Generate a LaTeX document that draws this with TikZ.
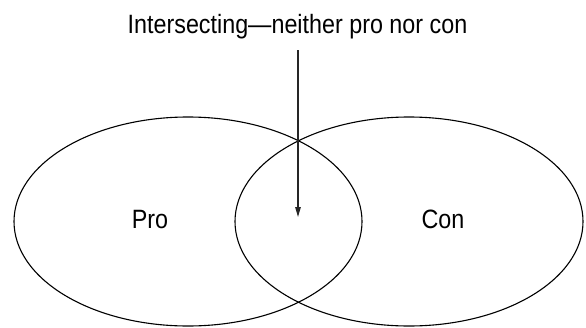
\documentclass[tikz,border=0pt]{standalone}
\usepackage{fontspec}
\setmainfont{Liberation Sans}[FakeStretch=0.88]
\usetikzlibrary{shapes.geometric,arrows.meta}
\tikzset{
  setbox/.style={draw=black, line width=1.1pt, ellipse, inner sep=0pt,
    minimum width=348pt, minimum height=209pt},
  lbl/.style={anchor=base, inner sep=0pt, font=\fontsize{26.5}{30}\selectfont},
  pointer/.style={draw=black!85, line width=1.2pt, -{Triangle[length=10pt,width=5.5pt]}}
}
\begin{document}
\begin{tikzpicture}[x=1pt,y=-1pt]
  \useasboundingbox (0,0) rectangle (586,327);
  \node[setbox] (pro) at (188,221.5) {};
  \node[setbox] (con) at (409,221.5) {};
  \node[lbl] (title) at (297.5,33) {Intersecting—neither pro nor con};
  \node[lbl] (protext) at (150,228) {Pro};
  \node[lbl] (context) at (443,228) {Con};
  \coordinate (start) at (298,50);
  \coordinate (tip) at (298,217);
  \draw[pointer] (start) -- (tip);
\end{tikzpicture}
\end{document}
